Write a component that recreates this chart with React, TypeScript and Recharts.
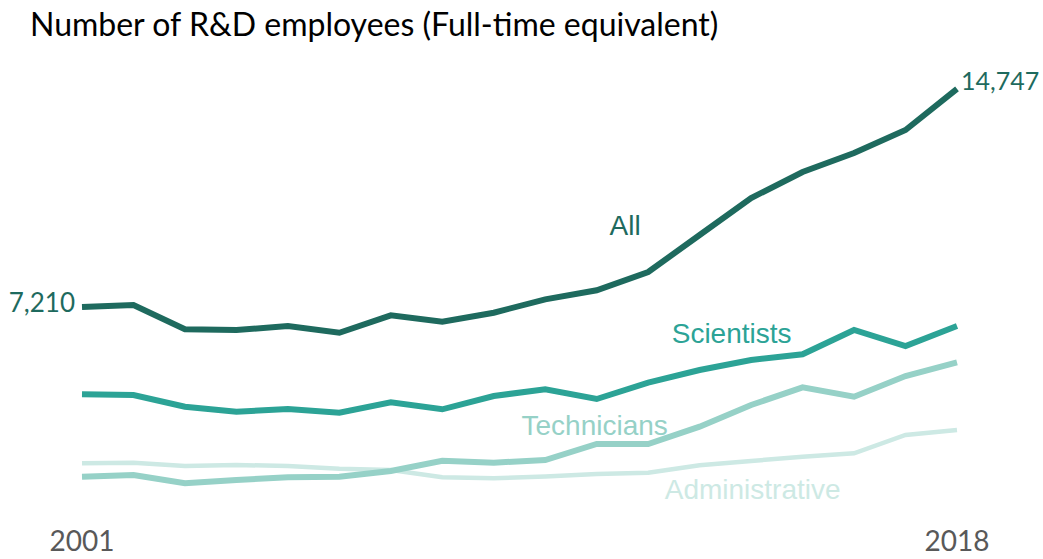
import React from "react";
import { LineChart, Line, XAxis, YAxis } from "recharts";

const years = [2001, 2002, 2003, 2004, 2005, 2006, 2007, 2008, 2009, 2010, 2011, 2012, 2013, 2014, 2015, 2016, 2017, 2018];
const allStaff = [7210, 7277, 6437, 6413, 6551, 6319, 6921, 6700, 7011, 7474, 7785, 8418, 9697, 10976, 11875, 12532, 13327, 14747];
const scientists = [4190, 4166, 3761, 3588, 3682, 3554, 3913, 3671, 4131, 4366, 4027, 4591, 5030, 5376, 5573, 6413, 5860, 6551];
const technicians = [1341, 1400, 1113, 1227, 1321, 1341, 1538, 1894, 1825, 1919, 2472, 2472, 3070, 3820, 4432, 4107, 4823, 5296];
const administrative = [1805, 1825, 1711, 1746, 1711, 1618, 1573, 1321, 1286, 1348, 1435, 1480, 1735, 1884, 2033, 2150, 2783, 2956];
const yearTicks = [2001, 2018];

const title = "Number of R&D employees (Full-time equivalent)";

const data = years.map((year, i) => ({
  year,
  all: allStaff[i],
  sci: scientists[i],
  tech: technicians[i],
  adm: administrative[i],
}));

const C_ALL = "#1e6a5e";
const C_SCI = "#2ca396";
const C_TECH = "#96d1c7";
const C_ADM = "#cde9e4";

const titleFont = "Lato, 'Open Sans', sans-serif";
const nameFont = "'Liberation Sans', Arial, sans-serif";

const last = years.length - 1;

const makeLabel = (
  color: string,
  name: string,
  nameIndex: number,
  dx: number,
  dy: number,
  withValues: boolean
) => (props: any) => {
  const { x, y, index, value } = props;
  if (withValues && index === 0) {
    return (
      <text key={`l${index}`} x={x - 7} y={y - 4} dy="0.35em" textAnchor="end" fill={color} fontSize={26} fontFamily={titleFont}>
        {Number(value).toLocaleString("en-US")}
      </text>
    );
  }
  if (withValues && index === last) {
    return (
      <text key={`l${index}`} x={x + 4} y={y - 8} dy="0.35em" textAnchor="start" fill={color} fontSize={25} fontFamily={titleFont}>
        {Number(value).toLocaleString("en-US")}
      </text>
    );
  }
  if (index === nameIndex) {
    return (
      <text key={`l${index}`} x={x + dx} y={y + dy} dy="0.35em" textAnchor="middle" fill={color} fontSize={28} fontFamily={nameFont}>
        {name}
      </text>
    );
  }
  return <g key={`l${index}`} />;
};

const YearTick = (props: any) => {
  const { x, y, payload } = props;
  return (
    <text x={x} y={y + 27} textAnchor="middle" fill="#595959" fontSize={28} fontFamily={titleFont}>
      {payload.value}
    </text>
  );
};

export default function App() {
  return (
    <div style={{ position: "absolute", left: 0, top: 0, width: 1043, height: 559, background: "#fff" }}>
      <div
        style={{
          position: "absolute",
          left: 30,
          top: 4,
          fontFamily: titleFont,
          fontSize: 32,
          color: "#000",
          whiteSpace: "nowrap",
        }}
      >
        {title}
      </div>
      <LineChart width={1043} height={559} data={data} margin={{ top: 52.7, right: 86, bottom: 13.5, left: 82 }}>
        <XAxis
          dataKey="year"
          type="number"
          domain={[2001, 2018]}
          ticks={yearTicks}
          axisLine={false}
          tickLine={false}
          height={30}
          tick={<YearTick />}
          interval={0}
        />
        <YAxis hide domain={[0, 16000]} />
        <Line dataKey="adm" stroke={C_ADM} strokeWidth={4.5} dot={false} isAnimationActive={false}
          label={makeLabel(C_ADM, "Administrative", 12, 53, 24, false)} />
        <Line dataKey="tech" stroke={C_TECH} strokeWidth={6} dot={false} isAnimationActive={false}
          label={makeLabel(C_TECH, "Technicians", 10, -2, -19, false)} />
        <Line dataKey="sci" stroke={C_SCI} strokeWidth={6} dot={false} isAnimationActive={false}
          label={makeLabel(C_SCI, "Scientists", 12, 32, -37, false)} />
        <Line dataKey="all" stroke={C_ALL} strokeWidth={6} dot={false} isAnimationActive={false}
          label={makeLabel(C_ALL, "All", 11, -23, -47, true)} />
      </LineChart>
    </div>
  );
}
